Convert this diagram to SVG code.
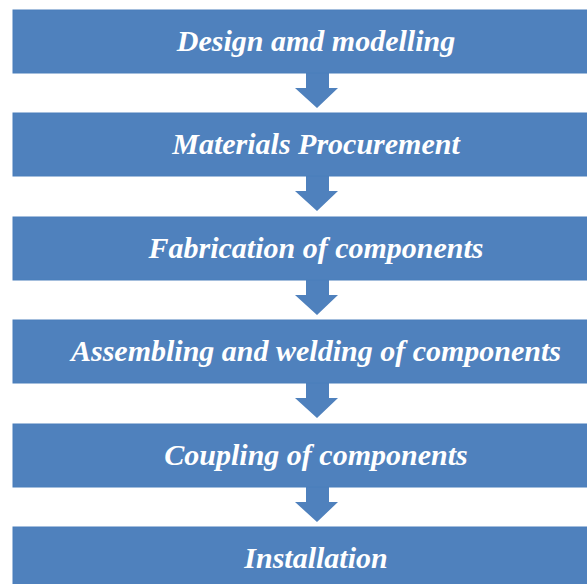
<svg xmlns="http://www.w3.org/2000/svg" width="587" height="584" viewBox="0 0 587 584">
<defs>
<style>
.box{fill:#4f81bd;stroke:#4a7ebb;stroke-width:1}
.lbl{font-family:"Liberation Serif","Times New Roman",serif;font-weight:bold;font-style:italic;font-size:30px;fill:#ffffff;text-anchor:middle}
.arr{fill:#4f81bd}
</style>
</defs>
<rect width="587" height="584" fill="#ffffff"/>
<g id="connectors">
<path class="arr" d="M306,73 H329 V88 H338 L317,108 L295,88 H306 Z"/>
<path class="arr" d="M306,176 H329 V191 H338 L317,211 L295,191 H306 Z"/>
<path class="arr" d="M306,280 H329 V295 H338 L317,315 L295,295 H306 Z"/>
<path class="arr" d="M306,383 H329 V398 H338 L317,418 L295,398 H306 Z"/>
<path class="arr" d="M306,487 H329 V502 H338 L317,522 L295,502 H306 Z"/>
</g>
<g id="n1"><rect class="box" x="13" y="10" width="580" height="63"/><text class="lbl" x="316" y="51">Design amd modelling</text></g>
<g id="n2"><rect class="box" x="13" y="113" width="580" height="63"/><text class="lbl" x="316" y="154">Materials Procurement</text></g>
<g id="n3"><rect class="box" x="13" y="217" width="580" height="63"/><text class="lbl" x="316" y="258">Fabrication of components</text></g>
<g id="n4"><rect class="box" x="13" y="320" width="580" height="63"/><text class="lbl" x="316" y="361">Assembling and welding of components</text></g>
<g id="n5"><rect class="box" x="13" y="424" width="580" height="63"/><text class="lbl" x="316" y="465">Coupling of components</text></g>
<g id="n6"><rect class="box" x="13" y="527" width="580" height="63"/><text class="lbl" x="316" y="568">Installation</text></g>
</svg>
